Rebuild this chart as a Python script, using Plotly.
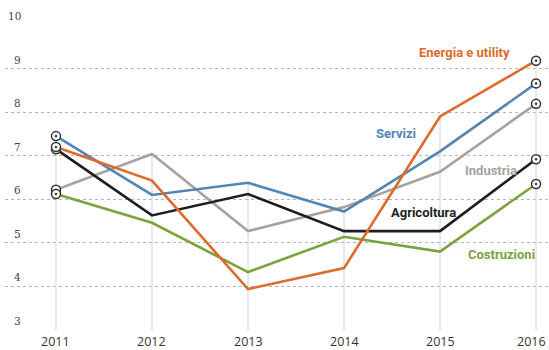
import plotly.graph_objects as go

years = [2011, 2012, 2013, 2014, 2015, 2016]
energia = [7.2, 6.43, 3.94, 4.42, 7.9, 9.18]
servizi = [7.45, 6.1, 6.38, 5.72, 7.1, 8.66]
industria = [6.22, 7.04, 5.27, 5.82, 6.63, 8.19]
agricoltura = [7.15, 5.63, 6.12, 5.27, 5.27, 6.92]
costruzioni = [6.12, 5.46, 4.33, 5.14, 4.8, 6.35]
y_ticks = [3, 4, 5, 6, 7, 8, 9, 10]

series = [
    ("Industria", industria, "#a8a29e", 2015.53, 6.65),
    ("Costruzioni", costruzioni, "#7ba33c", 2015.64, 4.74),
    ("Servizi", servizi, "#5286b4", 2014.54, 7.5),
    ("Agricoltura", agricoltura, "#1e1e1e", 2014.83, 5.69),
    ("Energia e utility", energia, "#dd6b2c", 2015.25, 9.38),
]

fig = go.Figure()

# vertical drop lines from max value down to axis
all_vals = [energia, servizi, industria, agricoltura, costruzioni]
vx, vy = [], []
for i, yr in enumerate(years):
    top = max(v[i] for v in all_vals)
    vx += [yr, yr, None]
    vy += [y_ticks[0], top, None]
fig.add_trace(go.Scatter(x=vx, y=vy, mode="lines",
                         line=dict(color="#d2d2d2", width=1),
                         hoverinfo="skip", showlegend=False))

for name, vals, color, lx, ly in series:
    fig.add_trace(go.Scatter(x=years, y=vals, mode="lines", name=name,
                             line=dict(color=color, width=2.6),
                             showlegend=False, cliponaxis=False))

# end markers
mx, my = [], []
for name, vals, color, lx, ly in series:
    mx += [years[0], years[-1]]
    my += [vals[0], vals[-1]]
fig.add_trace(go.Scatter(x=mx, y=my, mode="markers",
                         marker=dict(symbol="circle-dot", size=9, color="white",
                                     line=dict(color="#333333", width=1.5)),
                         showlegend=False, hoverinfo="skip", cliponaxis=False))

annotations = []
for name, vals, color, lx, ly in series:
    annotations.append(dict(x=lx, y=ly, xref="x", yref="y", text="<b>%s</b>" % name,
                            showarrow=False,
                            font=dict(family="Roboto", size=13, color=color)))
for t in y_ticks:
    annotations.append(dict(x=(23 - 5) / 544, y=t, xref="paper", yref="y", text=str(t),
                            showarrow=False, xanchor="right", yanchor="bottom", yshift=1,
                            font=dict(family="DejaVu Serif", size=10.5, color="#444444")))
for yr in years:
    if yr == years[-1]:
        annotations.append(dict(x=1, y=0, xref="paper", yref="paper", text=str(yr),
                                showarrow=False, xanchor="right", yanchor="top", yshift=-1,
                                xshift=-1,
                                font=dict(family="Open Sans", size=12.5, color="#333333")))
    else:
        annotations.append(dict(x=yr, y=0, xref="x", yref="paper", text=str(yr),
                                showarrow=False, xanchor="center", yanchor="top", yshift=-1,
                                font=dict(family="Open Sans", size=12.5, color="#333333")))

fig.update_layout(
    width=549, height=350,
    margin=dict(l=5, r=0, t=25, b=20),
    paper_bgcolor="white", plot_bgcolor="white",
    annotations=annotations,
    xaxis=dict(range=[2010.469, 2016.135], tickvals=years, showticklabels=False,
               showgrid=False, zeroline=False, showline=False, ticks="", automargin=False),
    yaxis=dict(range=[3, 10], tickvals=y_ticks, showticklabels=False,
               showgrid=True, gridcolor="#b4b4b4", griddash="dot", gridwidth=1,
               zeroline=False, showline=False, automargin=False),
)

fig.write_html("out.html", config={"displayModeBar": False},
               post_script="document.body.style.margin='0';")
